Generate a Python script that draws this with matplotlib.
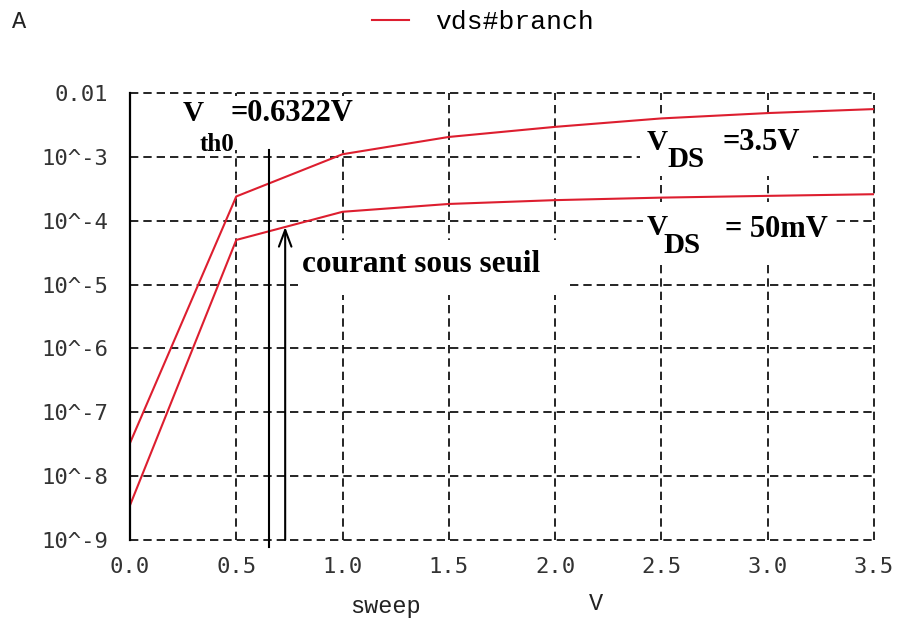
import numpy as np
import matplotlib.pyplot as plt
from matplotlib.patches import Rectangle
from matplotlib.lines import Line2D
from matplotlib.ticker import NullLocator

# sweep points (V) and drain current (A) for the two Vds values
sweep = [0.0, 0.5, 1.0, 1.5, 2.0, 2.5, 3.0, 3.5]
id_vds_3v5 = [3.3e-8, 2.4e-4, 1.1e-3, 2.05e-3, 2.95e-3, 4.0e-3, 4.85e-3, 5.6e-3]
id_vds_50mv = [3.5e-9, 5.0e-5, 1.38e-4, 1.83e-4, 2.1e-4, 2.3e-4, 2.45e-4, 2.6e-4]

x_ticks = [0.0, 0.5, 1.0, 1.5, 2.0, 2.5, 3.0, 3.5]
x_tick_labels = ['0.0', '0.5', '1.0', '1.5', '2.0', '2.5', '3.0', '3.5']
y_ticks = [1e-2, 1e-3, 1e-4, 1e-5, 1e-6, 1e-7, 1e-8, 1e-9]
y_tick_labels = ['0.01', '10^-3', '10^-4', '10^-5', '10^-6', '10^-7', '10^-8', '10^-9']

vth_line_x = 0.655   # where the threshold marker is drawn
arrow_x = 0.73       # "courant sous seuil" arrow

RED = '#dd1e2f'
W, H = 899, 619


def fx(px):
    return px / W


def fy(py):
    return 1 - py / H


fig = plt.figure(figsize=(W / 100, H / 100), dpi=100)
ax = fig.add_axes([fx(130), fy(540), (874 - 130) / W, (540 - 93) / H])

ax.plot(sweep, id_vds_3v5, color=RED, lw=1.5, zorder=2)
ax.plot(sweep, id_vds_50mv, color=RED, lw=1.5, zorder=2)

ax.set_yscale('log')
ax.set_xlim(0, 3.5)
ax.set_ylim(1e-9, 1e-2)
ax.set_xticks(x_ticks, x_tick_labels)
ax.set_yticks(y_ticks, y_tick_labels)
ax.yaxis.set_minor_locator(NullLocator())
ax.tick_params(length=0, labelsize=16, labelcolor='#333333')
ax.tick_params(axis='x', pad=12)
ax.tick_params(axis='y', pad=16)
for lbl in ax.get_xticklabels() + ax.get_yticklabels():
    lbl.set_fontfamily('DejaVu Sans Mono')

ax.set_axisbelow(True)
ax.grid(True, color='black', linestyle=(0, (5, 3)), linewidth=1.2)
for gl in ax.get_xgridlines() + ax.get_ygridlines():
    gl.set_clip_on(False)

for s in ['top', 'right', 'bottom']:
    ax.spines[s].set_visible(False)
ax.spines['left'].set_linewidth(1.6)
ax.spines['left'].set_color('black')

# threshold marker line
ax.axvline(vth_line_x, ymin=(540 - 547) / 447, ymax=(540 - 150) / 447,
           color='black', lw=1.5, clip_on=False, zorder=2)

# arrow pointing at the 50mV curve
tip = 10 ** np.interp(arrow_x, sweep, np.log10(id_vds_50mv))
ax.annotate('', xy=(arrow_x, tip), xytext=(arrow_x, 1e-9),
            arrowprops=dict(arrowstyle='->,head_length=1.2,head_width=0.45',
                            color='black', lw=1.5, shrinkA=0, shrinkB=0))


def blank(x0, y0, x1, y1):
    # white patch behind the pasted-on labels, hides the grid there
    ax.add_patch(Rectangle((fx(x0), fy(y1)), fx(x1) - fx(x0), fy(y0) - fy(y1),
                           transform=fig.transFigure, facecolor='white',
                           edgecolor='none', zorder=1.5, clip_on=False))


blank(178, 96, 362, 150)
blank(640, 115, 813, 176)
blank(643, 202, 832, 262)
blank(298, 240, 565, 295)

serif = dict(family='Liberation Serif', weight='bold', color='black', va='baseline')
fig.text(fx(183), fy(121), 'V', fontsize=21, **serif)
fig.text(fx(230), fy(121), '=0.6322V', fontsize=22, **serif)
fig.text(fx(200), fy(151), 'th0', fontsize=18, **serif)

fig.text(fx(647), fy(150), 'V', fontsize=21, **serif)
fig.text(fx(667), fy(167), 'DS', fontsize=21, **serif)
fig.text(fx(723), fy(150), '=3.5V', fontsize=22, **serif)

fig.text(fx(647), fy(235), 'V', fontsize=21, **serif)
fig.text(fx(663), fy(253), 'DS', fontsize=21, **serif)
fig.text(fx(725), fy(237), '= 50mV', fontsize=22, **serif)

fig.text(fx(302), fy(272), 'courant sous seuil', fontsize=22.5, **serif)

mono = dict(family='Liberation Mono', color='#222222', va='center')
fig.text(fx(12), fy(22), 'A', fontsize=17, **mono)
fig.text(fx(350), fy(606), 'sweep', fontsize=17, **mono)
fig.text(fx(589), fy(604), 'V', fontsize=17, **mono)

handle = Line2D([], [], color=RED, lw=1.5)
fig.legend([handle], ['vds#branch'], loc='center left',
           bbox_to_anchor=(fx(372), fy(22)), frameon=False,
           borderpad=0, borderaxespad=0, handlelength=1.4, handletextpad=1.0,
           prop=dict(family='Liberation Mono', size=19))

fig.savefig('out.png', dpi=100)
